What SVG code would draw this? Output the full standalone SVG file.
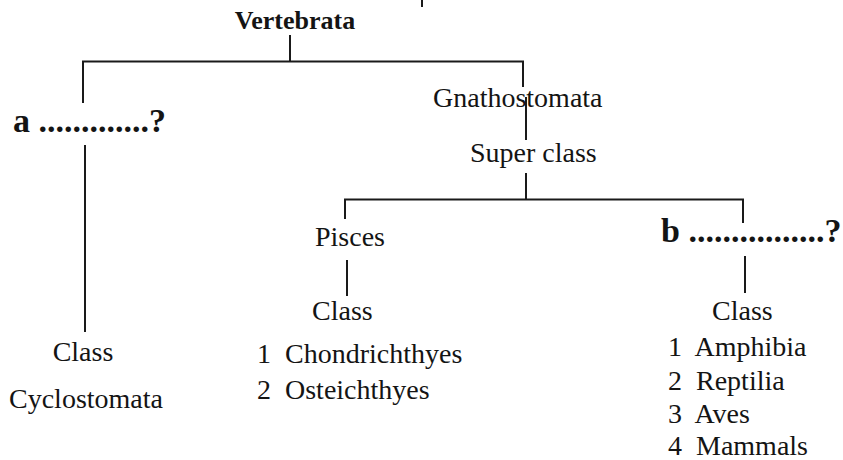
<svg xmlns="http://www.w3.org/2000/svg" width="843" height="460" viewBox="0 0 843 460">
<style>
.t{font-family:"Liberation Serif","Times New Roman",serif;font-size:28px;fill:#141414}
.b{font-family:"Liberation Serif","Times New Roman",serif;font-weight:bold;fill:#141414}
.c line{stroke:#1a1a1a;stroke-width:2;stroke-linecap:butt}
</style>
<rect width="843" height="460" fill="#ffffff"/>
<g class="c" id="connectors">
<line x1="422" y1="0" x2="422" y2="7"/>
<line x1="290" y1="35" x2="290" y2="61.5"/>
<line x1="82" y1="61.5" x2="524" y2="61.5"/>
<line x1="83" y1="61.5" x2="83" y2="103"/>
<line x1="85" y1="145" x2="85" y2="332"/>
<line x1="523" y1="61.5" x2="523" y2="87"/>
<line x1="526" y1="97" x2="526" y2="140"/>
<line x1="526" y1="173" x2="526" y2="199.5"/>
<line x1="344" y1="199.5" x2="744" y2="199.5"/>
<line x1="345" y1="199.5" x2="345" y2="219"/>
<line x1="743" y1="199.5" x2="743" y2="223"/>
<line x1="347" y1="260" x2="347" y2="296"/>
<line x1="745" y1="256" x2="745" y2="293"/>
</g>
<g id="vertebrata"><text class="b" x="295" y="29" font-size="26" text-anchor="middle">Vertebrata</text></g>
<g id="a"><text class="b" x="13" y="132" font-size="34">a .............?</text></g>
<g id="gnathostomata"><text class="t" x="433" y="107">Gnathostomata</text></g>
<g id="superclass"><text class="t" x="470" y="162">Super class</text></g>
<g id="pisces"><text class="t" x="315" y="246">Pisces</text></g>
<g id="b"><text class="b" x="661" y="242" font-size="34">b ................?</text></g>
<g id="class-left">
<text class="t" x="83" y="361" text-anchor="middle">Class</text>
<text class="t" x="86" y="408" text-anchor="middle">Cyclostomata</text>
</g>
<g id="class-pisces">
<text class="t" x="312" y="320">Class</text>
<text class="t" x="257" y="363" xml:space="preserve">1  Chondrichthyes</text>
<text class="t" x="257" y="399" xml:space="preserve">2  Osteichthyes</text>
</g>
<g id="class-b">
<text class="t" x="712" y="320">Class</text>
<text class="t" x="668" y="356" xml:space="preserve">1  Amphibia</text>
<text class="t" x="668" y="390" xml:space="preserve">2  Reptilia</text>
<text class="t" x="668" y="423" xml:space="preserve">3  Aves</text>
<text class="t" x="668" y="455" xml:space="preserve">4  Mammals</text>
</g>
</svg>
